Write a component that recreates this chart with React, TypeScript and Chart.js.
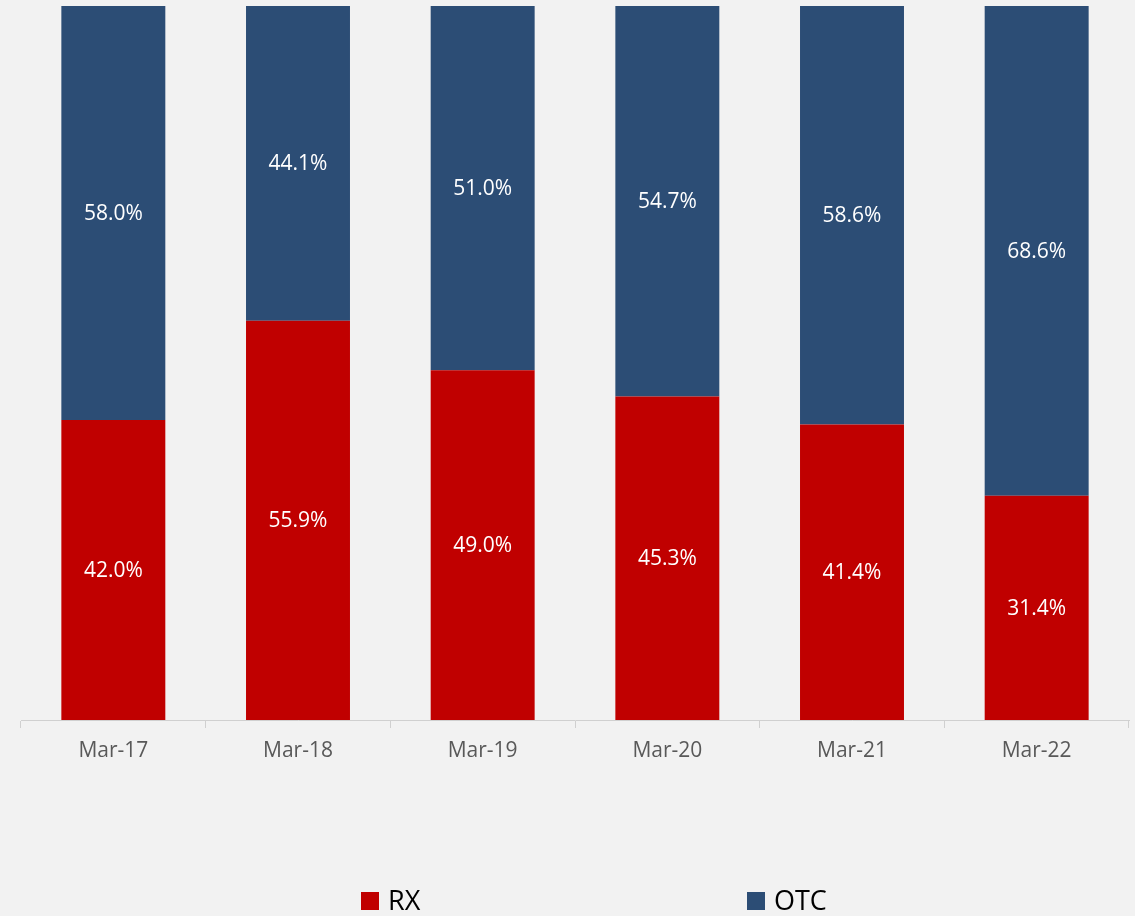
import React, { useEffect, useRef } from "react";
import { Chart, registerables } from "chart.js";

Chart.register(...registerables);

const categories = ["Mar-17", "Mar-18", "Mar-19", "Mar-20", "Mar-21", "Mar-22"];
const rxValues = [42.0, 55.9, 49.0, 45.3, 41.4, 31.4];
const otcValues = [58.0, 44.1, 51.0, 54.7, 58.6, 68.6];
const seriesNames = ["RX", "OTC"];
const seriesColors = ["#c00000", "#2c4d75"];

const FONT = "'Open Sans', 'Noto Sans', sans-serif";

const labelPlugin = {
  id: "segLabels",
  afterDatasetsDraw(chart: any) {
    const ctx = chart.ctx;
    ctx.save();
    ctx.fillStyle = "#ffffff";
    ctx.font = `21px ${FONT}`;
    ctx.textAlign = "center";
    ctx.textBaseline = "middle";
    chart.data.datasets.forEach((ds: any, di: number) => {
      const meta = chart.getDatasetMeta(di);
      meta.data.forEach((el: any, i: number) => {
        const v = ds.data[i];
        const y = (el.y + el.base) / 2;
        ctx.fillText(v.toFixed(1) + "%", el.x, y + 1);
      });
    });
    ctx.restore();
  },
};

const legendPlugin = {
  id: "customLegend",
  afterDraw(chart: any) {
    const ctx = chart.ctx;
    ctx.save();
    const positions = [361, 747];
    const yc = 901;
    ctx.font = `27px ${FONT}`;
    ctx.textBaseline = "middle";
    ctx.textAlign = "left";
    seriesNames.forEach((name, i) => {
      ctx.fillStyle = seriesColors[i];
      ctx.fillRect(positions[i], yc - 9, 18, 18);
      ctx.fillStyle = "#000000";
      ctx.fillText(name, positions[i] + 27, yc + 1);
    });
    ctx.restore();
  },
};

export default function App() {
  const ref = useRef<HTMLCanvasElement | null>(null);
  useEffect(() => {
    if (!ref.current) return;
    const chart = new Chart(ref.current, {
      type: "bar",
      data: {
        labels: categories,
        datasets: [
          { label: seriesNames[0], data: rxValues, backgroundColor: seriesColors[0] },
          { label: seriesNames[1], data: otcValues, backgroundColor: seriesColors[1] },
        ],
      },
      options: {
        animation: false,
        responsive: false,
        maintainAspectRatio: false,
        layout: { padding: { top: 6, left: 21, right: 6, bottom: 0 } },
        plugins: { legend: { display: false }, tooltip: { enabled: false } },
        datasets: { bar: { categoryPercentage: 1, barPercentage: 0.563 } },
        scales: {
          x: {
            stacked: true,
            grid: {
              offset: true,
              drawOnChartArea: false,
              drawTicks: true,
              tickLength: 8,
              color: "#d0d0d0",
            },
            border: { display: true, color: "#d0d0d0", width: 1 },
            ticks: {
              color: "#595959",
              font: { family: FONT, size: 21 },
              padding: 10,
            },
            afterFit(scale: any) {
              scale.height = 196;
            },
          },
          y: {
            stacked: true,
            display: false,
            min: 0,
            max: 100,
          },
        },
      },
      plugins: [labelPlugin, legendPlugin],
    });
    return () => chart.destroy();
  }, []);
  return (
    <div style={{ position: "fixed", left: 0, top: 0, width: 1135, height: 916, background: "#f2f2f2" }}>
      <canvas ref={ref} width={1135} height={916} style={{ display: "block" }} />
    </div>
  );
}
